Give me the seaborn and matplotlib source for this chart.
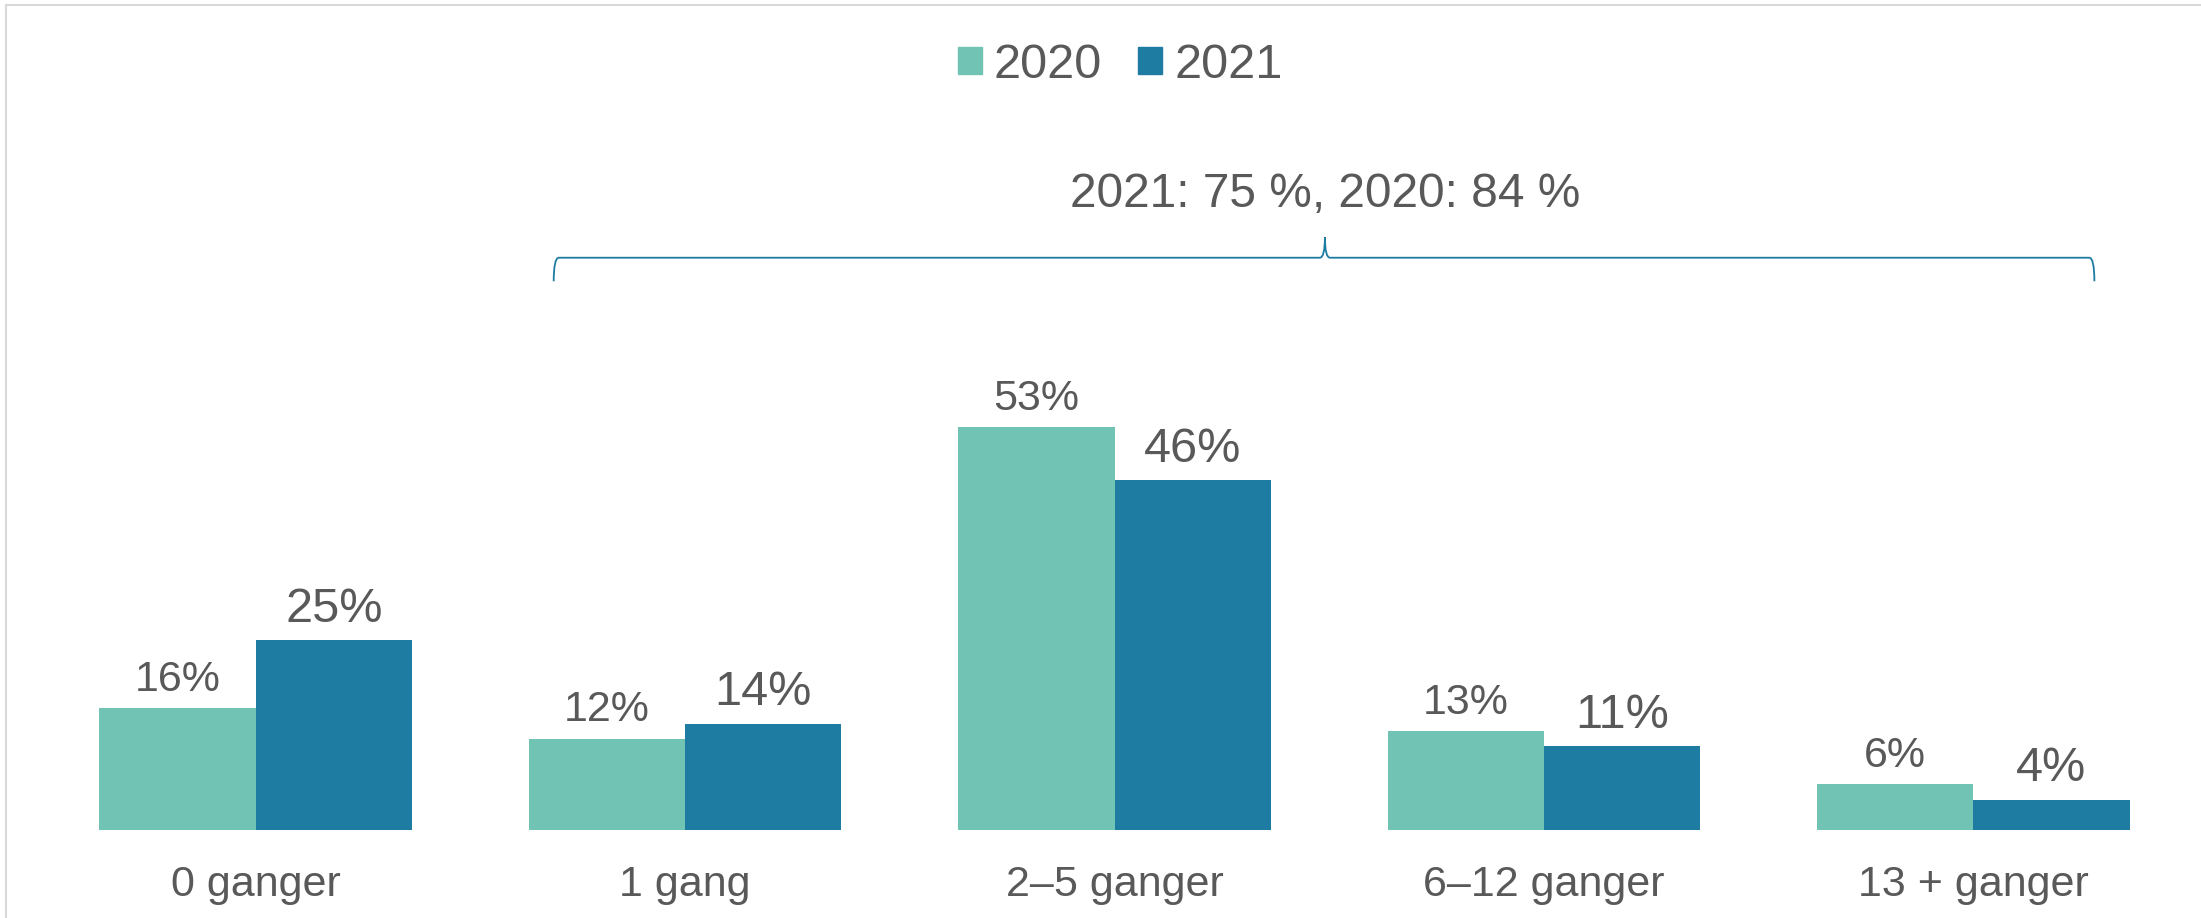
import numpy as np
import pandas as pd
import matplotlib
matplotlib.use('Agg')
import matplotlib.pyplot as plt
import seaborn as sns
from matplotlib.path import Path
from matplotlib.patches import PathPatch, Patch, Rectangle

# Data
categories = ['0 ganger', '1 gang', '2–5 ganger', '6–12 ganger', '13 + ganger']
years = ['2020', '2021']
values_2020 = [16, 12, 53, 13, 6]
values_2021 = [25, 14, 46, 11, 4]
brace_text = '2021: 75 %, 2020: 84 %'

colors = {'2020': '#71C3B4', '2021': '#1E7BA2'}
text_color = '#595959'

df = pd.DataFrame({
    'kategori': categories * 2,
    'år': ['2020'] * len(categories) + ['2021'] * len(categories),
    'andel': values_2020 + values_2021,
})

sns.set_style('white')
plt.rcParams['font.family'] = ['Liberation Sans', 'DejaVu Sans']

W, H = 2201, 918
fig = plt.figure(figsize=(W / 100, H / 100), dpi=100)
ax = fig.add_axes([41 / W, 88 / H, 2147 / W, 798 / H])

sns.barplot(data=df, x='kategori', y='andel', hue='år', palette=colors,
            width=0.728, gap=0, saturation=1, legend=False, linewidth=0, ax=ax)

# value labels (2021 labels are drawn a bit larger)
for cont, vals, fs in zip(ax.containers, [values_2020, values_2021], [31, 35]):
    ax.bar_label(cont, labels=[f'{v}%' for v in vals], padding=6,
                 fontsize=fs, color=text_color)

ax.set_xlim(-0.5, len(categories) - 0.5)
ax.set_ylim(0, 105)
ax.set_xlabel('')
ax.set_ylabel('')
ax.set_yticks([])
ax.tick_params(axis='x', length=0, pad=25, labelsize=31, labelcolor=text_color)
for s in ax.spines.values():
    s.set_visible(False)

# curly brace over categories 1-4
x0, x1, xm = 0.694, 4.282, 2.49
y_end, y_line, y_tip = 72.2, 75.3, 78.0
dx = 0.012
verts = [
    (x0, y_end), (x0, y_line), (x0 + dx, y_line),
    (xm - dx, y_line), (xm, y_line), (xm, y_tip),
    (xm, y_line), (xm + dx, y_line),
    (x1 - dx, y_line), (x1, y_line), (x1, y_end),
]
codes = [Path.MOVETO, Path.CURVE3, Path.CURVE3,
         Path.LINETO, Path.CURVE3, Path.CURVE3,
         Path.CURVE3, Path.CURVE3,
         Path.LINETO, Path.CURVE3, Path.CURVE3]
ax.add_patch(PathPatch(Path(verts, codes), fill=False, edgecolor='#1E7BA2',
                       lw=1.3, clip_on=False))
ax.text(xm, 83.6, brace_text, ha='center', va='center', fontsize=34.5,
        color=text_color)

# legend
handles = [Patch(color=colors[y], label=y) for y in years]
fig.legend(handles=handles, loc='center', bbox_to_anchor=(0.509, 0.929),
           ncol=2, frameon=False, fontsize=35, handlelength=0.49,
           handleheight=0.49, handletextpad=0.25, columnspacing=0.75,
           labelcolor=text_color)

# thin chart frame
fig.add_artist(Rectangle((6 / W, -0.1), 1.2, 1.1 - 5 / H, transform=fig.transFigure,
                         fill=False, edgecolor='#D9D9D9', lw=1.5))

fig.savefig('out.png', dpi=100)
